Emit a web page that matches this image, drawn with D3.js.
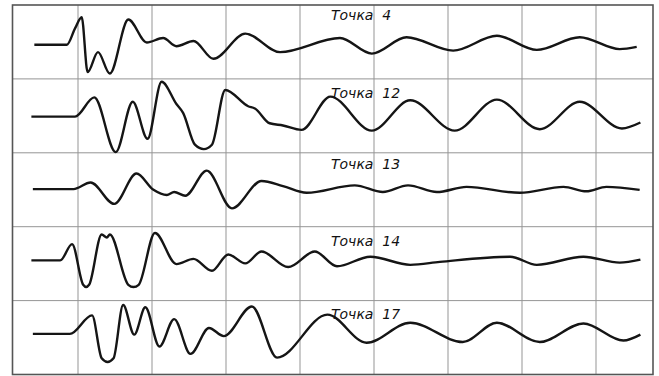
<!DOCTYPE html>
<html>
<head>
    <meta charset="UTF-8" />
    <script src="https://d3js.org/d3.v7.min.js"></script>
    <style>
        body { margin: 0; background: #fff; }
        svg { display: block; }
        .lbl { font-family: "DejaVu Sans", sans-serif; font-style: italic; font-size: 14px; fill: #111; white-space: pre; }
    </style>
</head>
<body>
<svg></svg>
<script>
    // chart values: time in grid divisions, amplitude in grid heights
    let names = ["Точка  4", "Точка  12", "Точка  13", "Точка  14", "Точка  17"];

    let point4 = [[0.41,0],[0.85,0],[0.96,0.22],[1.05,0.37],[1.13,-0.37],[1.27,-0.10],[1.43,-0.39],[1.68,0.34],
        [1.93,0.03],[2.15,0.09],[2.33,-0.02],[2.56,0.05],[2.83,-0.19],[3.26,0.15],[3.73,-0.10],[4.54,0.09],
        [4.97,-0.12],[5.44,0.10],[6.07,-0.08],[6.66,0.12],[7.20,-0.07],[7.78,0.10],[8.32,-0.06],[8.55,-0.03]];

    let point12 = [[0.37,0],[0.96,0],[1.22,0.26],[1.51,-0.48],[1.74,0.20],[1.94,-0.30],[2.13,0.47],[2.33,0.17],
        [2.42,0.05],[2.58,-0.38],[2.70,-0.44],[2.81,-0.38],[2.99,0.36],[3.30,0.14],[3.39,0.11],[3.59,-0.09],[3.77,-0.12],
        [4.02,-0.18],[4.41,0.27],[4.97,-0.19],[5.49,0.22],[6.09,-0.19],[6.66,0.23],[7.24,-0.17],[7.78,0.20],
        [8.35,-0.16],[8.60,-0.08]];

    let point13 = [[0.39,0],[0.94,0],[1.17,0.09],[1.49,-0.20],[1.79,0.21],[2.02,-0.01],[2.20,-0.08],[2.30,-0.04],
        [2.45,-0.09],[2.74,0.25],[3.08,-0.26],[3.48,0.11],[3.77,0.04],[4.09,-0.05],[4.74,0.05],[5.12,-0.04],
        [5.46,0.05],[5.85,-0.04],[6.25,0.03],[6.97,-0.05],[7.56,0.03],[7.87,-0.03],[8.14,0.03],[8.59,-0.01]];

    let point14 = [[0.37,0],[0.76,0],[0.92,0.22],[1.07,-0.33],[1.11,-0.36],[1.15,-0.33],[1.32,0.35],[1.39,0.31],
        [1.43,0.35],[1.68,-0.33],[1.75,-0.36],[1.82,-0.33],
        [2.04,0.37],[2.33,-0.05],[2.56,0.02],[2.81,-0.14],[3.03,0.08],[3.26,-0.04],[3.48,0.12],[3.84,-0.09],
        [4.20,0.12],[4.50,-0.08],[4.95,0.05],[5.49,-0.06],[5.89,-0.02],[6.84,0.05],[7.20,-0.06],[7.83,0.05],
        [8.32,-0.03],[8.60,0.01]];

    let point17 = [[0.39,0],[0.89,0],[1.19,0.25],[1.32,-0.33],[1.40,-0.38],[1.48,-0.33],[1.61,0.39],[1.76,-0.01],[1.91,0.36],
        [2.10,-0.17],[2.30,0.20],[2.52,-0.27],[2.77,0.08],[2.97,-0.03],[3.35,0.37],[3.69,-0.32],[4.37,0.26],
        [4.90,-0.12],[5.49,0.15],[6.20,-0.11],[6.66,0.15],[7.24,-0.11],[7.83,0.14],[8.37,-0.09],[8.60,-0.01]];

    let series = [point4, point12, point13, point14, point17];
    let gridTicks = [1, 2, 3, 4, 5, 6, 7, 8];

    let width = 659, height = 376;
    let svg = d3.select("svg").attr("width", width).attr("height", height);

    // layout
    let frameL = 12.5, frameR = 653, frameT = 5, rowH = 73.9;
    let baseDy = [39.7, 37.7, 36.3, 33.7, 33.3];
    let labelDy = [15, 19, 16, 19, 18];

    let x = d3.scaleLinear().domain([0, 1]).range([4, 78]);
    let y = d3.scaleLinear().domain([-0.5, 0.5]).range([37, -37]);

    // grid
    let grid = svg.append("g").attr("stroke", "#959595").attr("stroke-width", 1);
    grid.selectAll("line.v").data(gridTicks).enter().append("line")
        .attr("class", "v")
        .attr("x1", d => x(d)).attr("x2", d => x(d))
        .attr("y1", frameT).attr("y2", frameT + rowH * 5);
    grid.selectAll("line.h").data(d3.range(1, 5)).enter().append("line")
        .attr("class", "h")
        .attr("x1", frameL).attr("x2", frameR)
        .attr("y1", d => frameT + rowH * d).attr("y2", d => frameT + rowH * d);

    svg.append("rect")
        .attr("x", frameL).attr("y", frameT)
        .attr("width", frameR - frameL).attr("height", rowH * 5)
        .attr("fill", "none").attr("stroke", "#555").attr("stroke-width", 1.6);

    let line = d3.line()
        .x(d => x(d[0]))
        .y(d => y(d[1]))
        .curve(d3.curveMonotoneX);

    let panels = svg.selectAll("g.panel").data(series).enter().append("g")
        .attr("class", "panel")
        .attr("transform", (d, i) => "translate(0," + (frameT + rowH * i + baseDy[i]) + ")");

    panels.append("path")
        .attr("d", d => line(d))
        .attr("fill", "none")
        .attr("stroke", "#151515")
        .attr("stroke-width", 2.4)
        .attr("stroke-linejoin", "round");

    svg.selectAll("text.lbl").data(names).enter().append("text")
        .attr("class", "lbl")
        .attr("x", 331)
        .attr("y", (d, i) => frameT + rowH * i + labelDy[i])
        .text(d => d);
</script>
</body>
</html>
